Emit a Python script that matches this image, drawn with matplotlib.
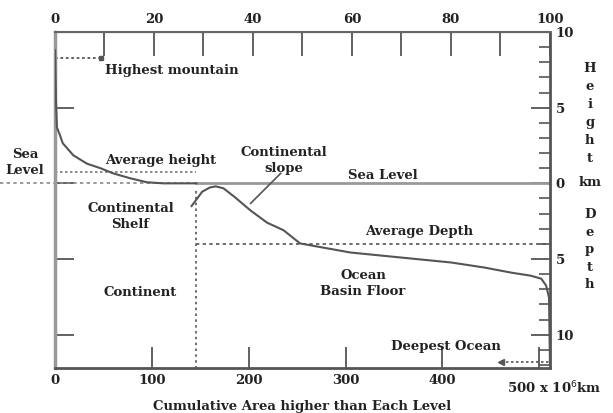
import numpy as np
import matplotlib
matplotlib.use("Agg")
import matplotlib.pyplot as plt

# cumulative area (10^6 km2) vs elevation (km)
land_area = [0, 1, 2, 5, 8, 19, 33, 47, 60, 78, 95, 112, 146]
land_height = [8.8, 5.5, 3.7, 3.2, 2.65, 1.85, 1.3, 1.0, 0.66, 0.33, 0.07, 0.0, 0.0]

ocean_area = [141, 152, 160, 166, 174, 186, 202, 219, 236, 253, 305, 357, 409, 443, 471, 491, 502, 507, 510, 511]
ocean_depth = [-1.5, -0.55, -0.27, -0.2, -0.33, -0.93, -1.8, -2.6, -3.1, -3.97, -4.57, -4.9, -5.23,
               -5.56, -5.9, -6.1, -6.3, -6.75, -7.55, -12.0]

highest_mountain = 8.3
average_height = 0.73
average_depth = -4.0
deepest_ocean = -11.8
land_total = 146
earth_total = 511

x_ticks = [0, 100, 200, 300, 400, 500]
x_labels = ["0", "100", "200", "300", "400", ""]
pct_ticks = [0, 20, 40, 60, 80, 100]
y_ticks = [10, 5, 0, -5, -10]
y_labels = ["10", "5", "0", "5", "10"]

ink = "#222222"
line_col = "#555555"
font = dict(family="DejaVu Serif", fontweight="bold", fontsize=9.5, color=ink)

fig = plt.figure(figsize=(6.13, 4.13), dpi=100)
ax = fig.add_axes([0.0897, 0.109, 0.8075, 0.8135])
ax.set_xlim(0, earth_total)
ax.set_ylim(-12.2, 10)

# curve
ax.plot(land_area, land_height, color=line_col, lw=1.5, zorder=3)
ax.plot(ocean_area, ocean_depth, color=line_col, lw=1.5, zorder=3)

# reference lines
ax.plot([0, 47], [highest_mountain] * 2, ls=(0, (1.5, 1.5)), color=line_col, lw=1.3)
ax.plot([47], [highest_mountain], marker="s", ms=3, color=line_col)
ax.plot([0, land_total], [average_height] * 2, ls=(0, (1.5, 1.5)), color="#777777", lw=1.2)
ax.plot([-57, land_total], [0, 0], ls=(0, (2, 2)), color="#888888", lw=1.2, clip_on=False)
ax.plot([land_total, earth_total], [0, 0], color="#999999", lw=2, zorder=2)
ax.plot([land_total, land_total], [-0.5, -12.2], ls=(0, (1.5, 2)), color=line_col, lw=1.2)
ax.plot([land_total, earth_total], [average_depth] * 2, ls=(0, (2, 2)), color=line_col, lw=1.2)
ax.plot([460, earth_total], [deepest_ocean] * 2, ls=(0, (1.5, 1.5)), color=line_col, lw=1.2)
ax.plot([460], [deepest_ocean], marker="<", ms=4, color=line_col)

# labels inside the plot
ax.text(52, 7.45, "Highest mountain", ha="left", va="center", **font)
ax.text(-31, 1.4, "Sea\nLevel", ha="center", va="center", linespacing=1.3, clip_on=False, **font)
ax.text(109, 1.5, "Average height", ha="center", va="center", **font)
ax.text(236, 1.5, "Continental\nslope", ha="center", va="center", linespacing=1.3, **font)
ax.plot([233, 202], [0.66, -1.32], color=line_col, lw=1.2)
ax.text(338, 0.55, "Sea Level", ha="center", va="center", **font)
ax.text(78, -2.2, "Continental\nShelf", ha="center", va="center", linespacing=1.3, **font)
ax.text(376, -3.2, "Average Depth", ha="center", va="center", **font)
ax.text(88, -7.2, "Continent", ha="center", va="center", **font)
ax.text(318, -6.6, "Ocean\nBasin Floor", ha="center", va="center", linespacing=1.3, **font)
ax.text(404, -10.75, "Deepest Ocean", ha="center", va="center", **font)

# right side vertical words
ax.text(552, 4.6, "\n".join("Height"), ha="center", va="center", linespacing=1.5, clip_on=False, **font)
ax.text(552, 0.05, "km", ha="center", va="center", clip_on=False, **font)
ax.text(552, -4.4, "\n".join("Depth"), ha="center", va="center", linespacing=1.45, clip_on=False, **font)

# axes styling
for side, lw, col in [("left", 2.5, "#999999"), ("bottom", 2, "#555555"),
                      ("top", 1.5, "#666666"), ("right", 2, "#555555")]:
    ax.spines[side].set_linewidth(lw)
    ax.spines[side].set_color(col)

ax.set_xticks(x_ticks)
ax.set_xticklabels(x_labels)
ax.set_yticks(y_ticks)
ax.set_yticklabels(y_labels)
ax.set_yticks(np.arange(-12, 11, 1), minor=True)
ax.tick_params(axis="x", direction="in", length=15, width=1.3, color=line_col,
               labelsize=9.5, labelcolor=ink, pad=4)
ax.tick_params(axis="y", which="major", direction="in", length=14, width=1.3, color=line_col,
               left=True, right=True, labelleft=False, labelright=True,
               labelsize=9.5, labelcolor=ink, pad=4)
ax.tick_params(axis="y", which="minor", direction="in", length=8, width=1.2, color=line_col,
               left=False, right=True)
for lab in ax.get_xticklabels() + ax.get_yticklabels():
    lab.set_family("DejaVu Serif")
    lab.set_fontweight("bold")

# last bottom label with units
ax.text(467, -12.95, "500 x 10$^6$km", ha="left", va="top", clip_on=False, **font)
ax.set_xlabel("Cumulative Area higher than Each Level", labelpad=10, **font)

top = ax.secondary_xaxis("top", functions=(lambda a: a / earth_total * 100,
                                            lambda p: p * earth_total / 100))
top.set_xticks(pct_ticks)
top.set_xticks(np.arange(10, 100, 20), minor=True)
top.tick_params(which="both", direction="in", length=17, width=1.3, color=line_col,
                labelsize=9.5, labelcolor=ink, pad=4)
for lab in top.get_xticklabels():
    lab.set_family("DejaVu Serif")
    lab.set_fontweight("bold")

fig.savefig("out.png", dpi=100)
